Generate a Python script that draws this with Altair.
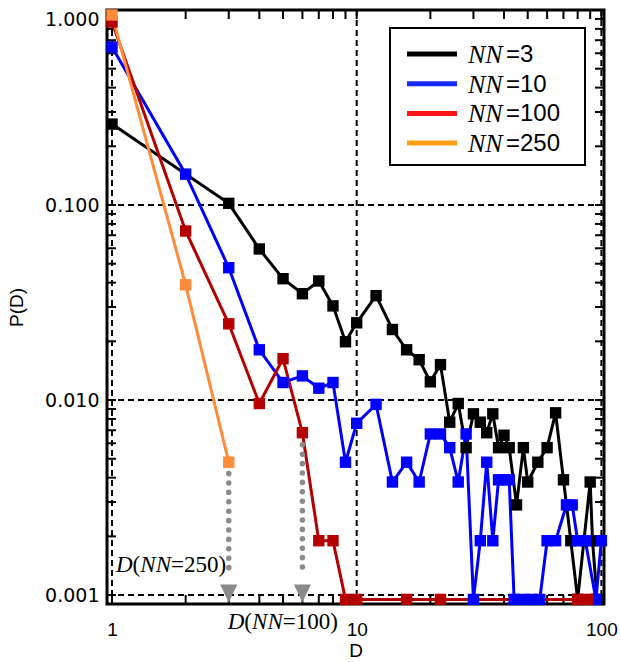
import altair as alt
import pandas as pd

# ---------------- data ----------------
series_names = ["NN=3", "NN=10", "NN=100", "NN=250"]
series_colors = ["#000000", "#0000FF", "#B40000", "#FF8C3A"]
legend_colors = ["#000000", "#1428FF", "#FF1414", "#FFA014"]

d_nn3 = [1, 3, 4, 5, 6, 7, 8, 9, 10, 12, 14, 16, 18, 20, 22, 24, 26, 28, 30, 32,
         34, 36, 38, 40, 42, 45, 48, 50, 55, 60, 65, 70, 75, 80, 90, 92, 96]
p_nn3 = [0.260, 0.102, 0.0595, 0.0419, 0.0351, 0.0408, 0.0304, 0.0199, 0.0249,
         0.0343, 0.0230, 0.0181, 0.0161, 0.0124, 0.0152, 0.0077, 0.0096, 0.0057,
         0.0085, 0.0077, 0.0068, 0.0085, 0.0057, 0.0066, 0.0057, 0.0029, 0.0057,
         0.0038, 0.0048, 0.0057, 0.0086, 0.0039, 0.0019, 0.00095, 0.0038, 0.0019,
         0.00095]

d_nn10 = [1, 2, 3, 4, 5, 6, 7, 8, 9, 10, 12, 14, 16, 18, 20, 22, 24, 26, 28, 30,
          32, 34, 36, 38, 40, 42, 44, 48, 52, 56, 60, 65, 72, 76, 80, 86, 95, 100]
p_nn10 = [0.646, 0.144, 0.0477, 0.0181, 0.0123, 0.0133, 0.0115, 0.0123, 0.0048,
          0.0076, 0.0095, 0.0038, 0.0048, 0.0038, 0.0067, 0.0067, 0.0057, 0.0038,
          0.0067, 0.00095, 0.0019, 0.0048, 0.0019, 0.0039, 0.0039, 0.0039, 0.00095,
          0.00095, 0.00095, 0.00095, 0.0019, 0.0019, 0.0029, 0.0029, 0.0019, 0.0019,
          0.00095, 0.0019]

d_nn100 = [1, 2, 3, 4, 5, 6, 7, 8, 9, 10, 16, 22, 80, 88]
p_nn100 = [0.868, 0.0736, 0.0246, 0.0096, 0.0163, 0.0068, 0.0019, 0.0019, 0.00095,
           0.00095, 0.00095, 0.00095, 0.00095, 0.00095]

d_nn250 = [1, 2, 3]
p_nn250 = [0.943, 0.039, 0.0048]

# dotted arrows marking D(NN=250) and D(NN=100)
arrow_d = [3, 6]
arrow_top = [0.0042, 0.0059]
arrow_bottom = [0.00125, 0.00125]
arrow_tip = [0.00102, 0.00102]

# annotation anchors (D, P) and numbers
ann_anchor_d = [1, 3]
ann_anchor_p = [0.00142, 0.00073]
ann_numbers = ["250", "100"]

x_major = [1, 10, 100]
y_major = [0.001, 0.01, 0.1, 1.0]
x_ticks = [1, 2, 3, 4, 5, 6, 7, 8, 9, 10, 20, 30, 40, 50, 60, 70, 80, 90, 100]
y_ticks = [0.001, 0.002, 0.003, 0.004, 0.005, 0.006, 0.007, 0.008, 0.009,
           0.01, 0.02, 0.03, 0.04, 0.05, 0.06, 0.07, 0.08, 0.09,
           0.1, 0.2, 0.3, 0.4, 0.5, 0.6, 0.7, 0.8, 0.9, 1.0]

# ---------------- layout constants ----------------
W, H = 497, 594
TICK = 9

# ---------------- tables ----------------
rows = []
for name, ds, ps in zip(series_names, [d_nn3, d_nn10, d_nn100, d_nn250],
                        [p_nn3, p_nn10, p_nn100, p_nn250]):
    for d, p in zip(ds, ps):
        rows.append({"series": name, "D": d, "P": p})
df = pd.DataFrame(rows)

arrows = pd.DataFrame({"D": arrow_d, "top": arrow_top, "bottom": arrow_bottom,
                       "tip": arrow_tip})

xs = alt.Scale(type="log", domain=[0.954, 102.5], nice=False)
ys = alt.Scale(type="log", domain=[0.0009, 1.0], nice=False)
cs = alt.Scale(domain=series_names, range=series_colors)

bottom_axis = alt.Axis(
    orient="bottom", values=x_major, ticks=False, domain=False, grid=False,
    labelExpr="format(datum.value, 'd')",
    labelFont="Liberation Sans", labelFontSize=19, labelColor="black",
    labelPadding=16, labelOverlap=False,
    titleFont="Liberation Sans", titleFontSize=19,
    titleFontWeight="normal", titleColor="black", titlePadding=2)
left_axis = alt.Axis(
    orient="left", values=y_major, ticks=False, domain=False, grid=False,
    labelExpr="format(datum.value, '.3f')",
    labelFont="DejaVu Sans", labelFontSize=19, labelColor="black",
    labelPadding=8, labelFlush=True, labelOverlap=False,
    titleFont="Liberation Sans", titleFontSize=19, titleFontWeight="normal",
    titleColor="black", titlePadding=18)

# dashed grid at the decades
grid_x = alt.Chart(pd.DataFrame({"D": x_major})).mark_rule(
    color="black", strokeWidth=2, strokeDash=[6, 4]
).encode(x=alt.X("D:Q", scale=xs, axis=None))

grid_y = alt.Chart(pd.DataFrame({"P": y_major})).mark_rule(
    color="black", strokeWidth=2, strokeDash=[6, 4]
).encode(y=alt.Y("P:Q", scale=ys, axis=None))

# inward ticks on all four sides
xt = pd.DataFrame({"D": x_ticks})
yt = pd.DataFrame({"P": y_ticks})
tick_style = dict(color="black", strokeWidth=2)
ticks_top = alt.Chart(xt).mark_rule(**tick_style).encode(
    x=alt.X("D:Q", scale=xs, axis=None), y=alt.value(0), y2=alt.value(TICK))
ticks_bottom = alt.Chart(xt).mark_rule(**tick_style).encode(
    x=alt.X("D:Q", scale=xs, axis=None), y=alt.value(H - TICK), y2=alt.value(H))
ticks_left = alt.Chart(yt).mark_rule(**tick_style).encode(
    y=alt.Y("P:Q", scale=ys, axis=None), x=alt.value(0), x2=alt.value(TICK))
ticks_right = alt.Chart(yt).mark_rule(**tick_style).encode(
    y=alt.Y("P:Q", scale=ys, axis=None), x=alt.value(W - TICK), x2=alt.value(W))

lines = alt.Chart(df).mark_line(strokeWidth=3).encode(
    x=alt.X("D:Q", scale=xs, axis=bottom_axis, title="D"),
    y=alt.Y("P:Q", scale=ys, axis=left_axis, title="P(D)"),
    color=alt.Color("series:N", scale=cs, legend=None),
)

points = alt.Chart(df).mark_square(size=130, opacity=1).encode(
    x=alt.X("D:Q", scale=xs, axis=None),
    y=alt.Y("P:Q", scale=ys, axis=None),
    color=alt.Color("series:N", scale=cs, legend=None),
)

dots = alt.Chart(arrows).mark_rule(
    color="#8a8a8a", strokeWidth=5.5, strokeDash=[0.1, 9.3], strokeCap="round"
).encode(
    x=alt.X("D:Q", scale=xs, axis=None),
    y=alt.Y("top:Q", scale=ys, axis=None),
    y2="bottom:Q",
)

tips = alt.Chart(arrows).mark_point(
    shape="M-0.95,-1L0.95,-1L0,1Z", size=324, filled=True, opacity=1,
    color="#8a8a8a"
).encode(
    x=alt.X("D:Q", scale=xs, axis=None),
    y=alt.Y("tip:Q", scale=ys, axis=None),
)

# annotation text "D(NN=xxx)" built from italic / roman pieces
text_layers = []
base_dx = [4, -1]
for a_d, a_p, num, bdx in zip(ann_anchor_d, ann_anchor_p, ann_numbers, base_dx):
    pieces = [("D", "italic", 0.0), ("(", "normal", 16.6),
              ("NN", "italic", 24.3), ("=" + num + ")", "normal", 55.0)]
    for txt, style, off in pieces:
        text_layers.append(
            alt.Chart(pd.DataFrame({"D": [a_d], "P": [a_p], "t": [txt]})).mark_text(
                align="left", baseline="middle", font="Liberation Serif",
                fontSize=23, fontStyle=style, color="black", dx=bdx + off
            ).encode(
                x=alt.X("D:Q", scale=xs, axis=None),
                y=alt.Y("P:Q", scale=ys, axis=None),
                text="t:N",
            )
        )

# legend box (top right), with italic "NN" and roman "=k"
LEG_X0, LEG_X1, LEG_Y0, LEG_Y1 = 283, 478, 18, 155
legend_layers = [
    alt.Chart(pd.DataFrame({"k": [0]})).mark_rect(
        fill="white", stroke="black", strokeWidth=2
    ).encode(x=alt.value(LEG_X0), x2=alt.value(LEG_X1),
             y=alt.value(LEG_Y0), y2=alt.value(LEG_Y1))
]
for i, (name, col) in enumerate(zip(series_names, legend_colors)):
    yrow = 44 + 29.7 * i
    head, tail = name.split("=")
    one = pd.DataFrame({"head": [head], "tail": ["=" + tail]})
    legend_layers.append(
        alt.Chart(one).mark_rule(color=col, strokeWidth=5).encode(
            x=alt.value(300), x2=alt.value(350), y=alt.value(yrow)))
    legend_layers.append(
        alt.Chart(one).mark_text(
            align="left", baseline="middle", font="Liberation Serif",
            fontSize=26, fontStyle="italic", color="black"
        ).encode(x=alt.value(361), y=alt.value(yrow + 1), text="head:N"))
    legend_layers.append(
        alt.Chart(one).mark_text(
            align="left", baseline="middle", font="Liberation Sans",
            fontSize=24, color="black"
        ).encode(x=alt.value(399), y=alt.value(yrow + 1), text="tail:N"))

chart = alt.layer(
    grid_x, grid_y, ticks_top, ticks_bottom, ticks_left, ticks_right,
    lines, points, dots, tips, *text_layers, *legend_layers
).resolve_axis(
    x="independent", y="independent"
).properties(
    width=W, height=H,
    autosize=alt.AutoSizeParams(type="none"),
    padding={"left": 107, "top": 10, "right": 16, "bottom": 58},
    background="white",
).configure_view(
    stroke="black", strokeWidth=3
)

chart.save("out.html", embed_options={"renderer": "svg", "actions": False})
